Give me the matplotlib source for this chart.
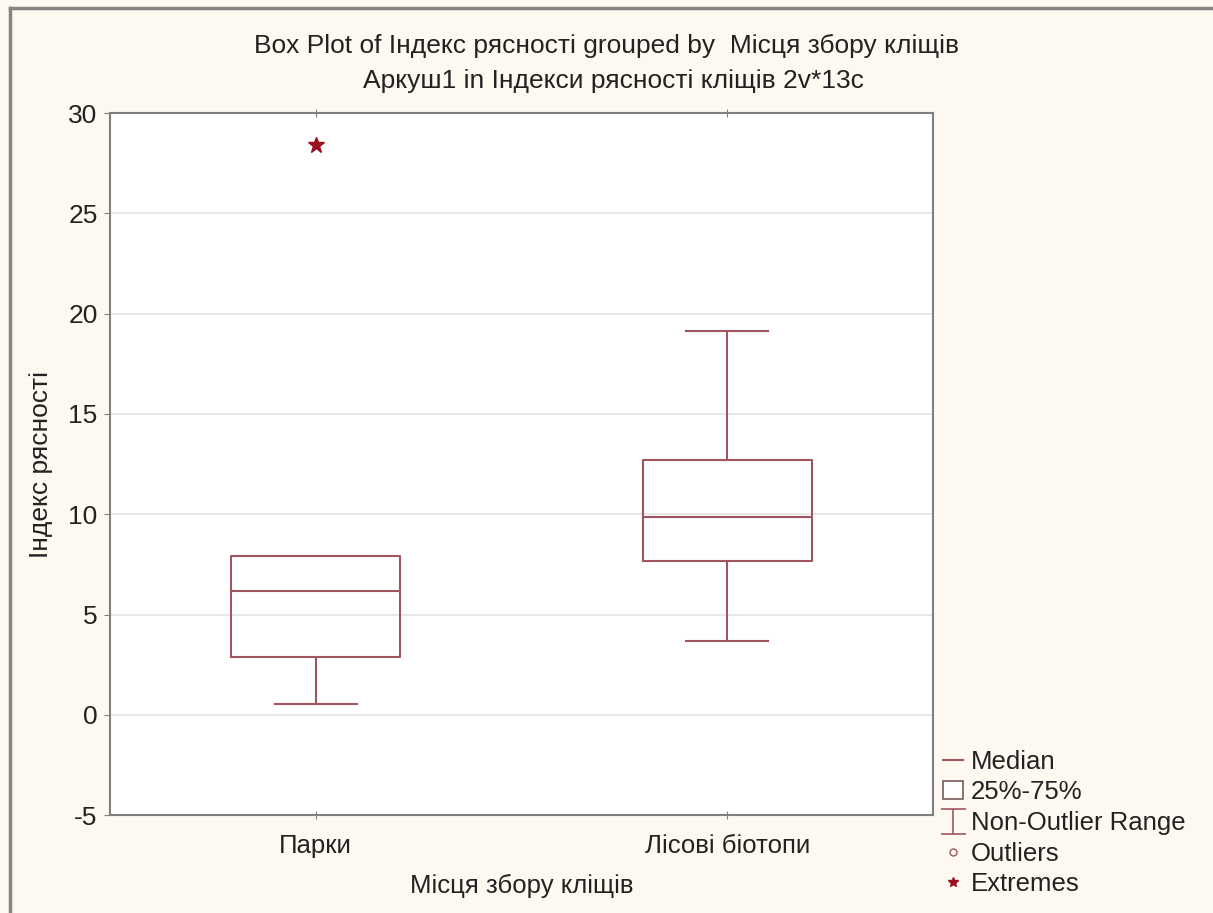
import matplotlib.pyplot as plt
from matplotlib.lines import Line2D
from matplotlib.patches import Patch
from matplotlib.path import Path

plt.rcParams['font.family'] = ['Liberation Sans', 'DejaVu Sans']
plt.rcParams['axes.unicode_minus'] = False

# values
groups = ['Парки', 'Лісові біотопи']
q1 = [2.9, 7.65]
med = [6.15, 9.85]
q3 = [7.9, 12.7]
whis_lo = [0.55, 3.7]
whis_hi = [7.9, 19.15]
extremes = [[28.4], []]

box_col = '#a0555f'
ext_col = '#9b1020'
bg = '#fdf9f0'
txt = '#222222'

fig = plt.figure(figsize=(12.13, 9.13), dpi=100, facecolor=bg)
ax = fig.add_axes([0.0907, 0.1073, 0.6785, 0.7687])
ax.set_facecolor('white')

stats = []
for i in range(len(groups)):
    stats.append(dict(med=med[i], q1=q1[i], q3=q3[i], whislo=whis_lo[i],
                      whishi=whis_hi[i], fliers=extremes[i], label=groups[i]))

ax.bxp(stats, positions=[1, 2], widths=0.41, showcaps=True,
       boxprops=dict(color=box_col, lw=1.5),
       medianprops=dict(color=box_col, lw=1.5),
       whiskerprops=dict(color=box_col, lw=1.5),
       capprops=dict(color=box_col, lw=1.5),
       capwidths=0.2,
       flierprops=dict(marker='*', markersize=12, markerfacecolor=ext_col,
                       markeredgecolor=ext_col, linestyle='none'))

ax.set_xlim(0.5, 2.5)
ax.set_ylim(-5, 30)
ax.set_yticks(range(-5, 31, 5))
ax.yaxis.grid(True, color='#e3e3e3', lw=1.2)
ax.set_axisbelow(True)
ax.set_xticks([1, 2])
ax.set_xticklabels(groups)
for s in ax.spines.values():
    s.set_color('#808080')
    s.set_linewidth(1.5)
ax.tick_params(axis='y', direction='out', length=4, color='#808080',
               labelsize=19, labelcolor=txt, pad=5)
ax.tick_params(axis='x', direction='inout', length=6, color='#808080',
               top=True, labelsize=18.5, labelcolor=txt, pad=11)

ax.set_ylabel('Індекс рясності', fontsize=19, color=txt, labelpad=11)
ax.set_xlabel('Місця збору кліщів', fontsize=18.5, color=txt, labelpad=11)

fig.text(0.5, 0.950, 'Box Plot of Індекс рясності grouped by  Місця збору кліщів',
         ha='center', va='center', fontsize=19, color=txt)
fig.text(0.506, 0.911, 'Аркуш1 in Індекси рясності кліщів 2v*13c',
         ha='center', va='center', fontsize=19, color=txt)

# legend
ivert = Path([(-1, 1), (1, 1), (0, 1), (0, -1), (-1, -1), (1, -1)],
             [Path.MOVETO, Path.LINETO, Path.MOVETO, Path.LINETO,
              Path.MOVETO, Path.LINETO])
handles = [
    Line2D([], [], color=box_col, lw=1.5),
    Patch(facecolor='white', edgecolor='#7a5a5a', lw=1.2),
    Line2D([], [], marker=ivert, color=box_col, markersize=18, lw=0,
           markeredgewidth=1.2),
    Line2D([], [], marker='o', color=box_col, markerfacecolor='none',
           markersize=5, lw=0),
    Line2D([], [], marker='*', color=ext_col, markersize=7, lw=0),
]
labels = ['Median', '25%-75%', 'Non-Outlier Range', 'Outliers', 'Extremes']
fig.legend(handles, labels, loc='upper left', bbox_to_anchor=(0.7665, 0.193),
           frameon=False, fontsize=18.5, handlelength=0.8, handletextpad=0.3,
           labelspacing=0.26, borderpad=0, labelcolor=txt)

# grey window frame
fig.add_artist(Line2D([0.008, 1.0], [0.991, 0.991], color='#858585', lw=2.5,
                      transform=fig.transFigure))
fig.add_artist(Line2D([0.008, 0.008], [0.0, 0.991], color='#858585', lw=2.5,
                      transform=fig.transFigure))

fig.savefig('out.png', dpi=100, facecolor=bg)
